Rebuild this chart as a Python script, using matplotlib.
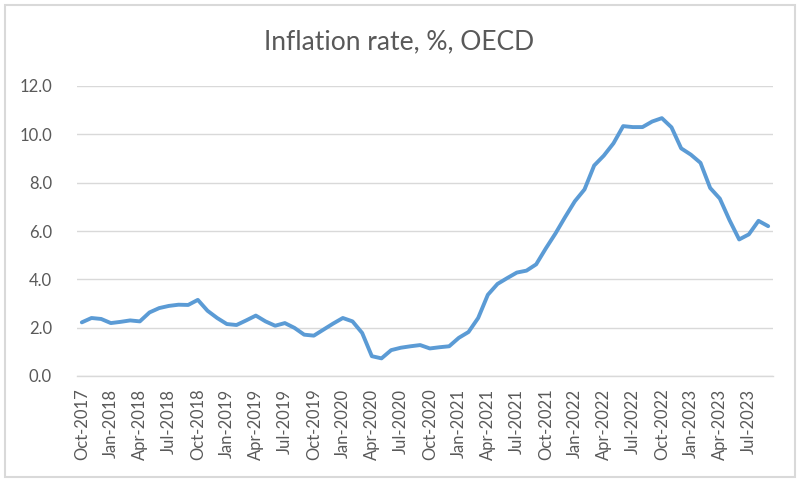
"""Inflation rate, %, OECD - monthly line chart."""

import matplotlib
matplotlib.use("Agg")
import matplotlib.pyplot as plt
from matplotlib.patches import Rectangle

months = [
    "Oct-2017", "Nov-2017", "Dec-2017",
    "Jan-2018", "Feb-2018", "Mar-2018", "Apr-2018", "May-2018", "Jun-2018",
    "Jul-2018", "Aug-2018", "Sep-2018", "Oct-2018", "Nov-2018", "Dec-2018",
    "Jan-2019", "Feb-2019", "Mar-2019", "Apr-2019", "May-2019", "Jun-2019",
    "Jul-2019", "Aug-2019", "Sep-2019", "Oct-2019", "Nov-2019", "Dec-2019",
    "Jan-2020", "Feb-2020", "Mar-2020", "Apr-2020", "May-2020", "Jun-2020",
    "Jul-2020", "Aug-2020", "Sep-2020", "Oct-2020", "Nov-2020", "Dec-2020",
    "Jan-2021", "Feb-2021", "Mar-2021", "Apr-2021", "May-2021", "Jun-2021",
    "Jul-2021", "Aug-2021", "Sep-2021", "Oct-2021", "Nov-2021", "Dec-2021",
    "Jan-2022", "Feb-2022", "Mar-2022", "Apr-2022", "May-2022", "Jun-2022",
    "Jul-2022", "Aug-2022", "Sep-2022", "Oct-2022", "Nov-2022", "Dec-2022",
    "Jan-2023", "Feb-2023", "Mar-2023", "Apr-2023", "May-2023", "Jun-2023",
    "Jul-2023", "Aug-2023", "Sep-2023",
]

inflation = [
    2.22, 2.40, 2.36,
    2.19, 2.24, 2.30, 2.26, 2.63, 2.81,
    2.90, 2.95, 2.94, 3.15, 2.70, 2.40,
    2.15, 2.11, 2.30, 2.50, 2.26, 2.08,
    2.19, 1.99, 1.71, 1.67, 1.92, 2.17,
    2.40, 2.26, 1.78, 0.82, 0.73, 1.07,
    1.17, 1.23, 1.28, 1.14, 1.19, 1.23,
    1.58, 1.82, 2.40, 3.36, 3.81, 4.05,
    4.28, 4.36, 4.62, 5.28, 5.90, 6.58,
    7.23, 7.72, 8.71, 9.12, 9.63, 10.34,
    10.30, 10.30, 10.53, 10.67, 10.29, 9.42,
    9.16, 8.82, 7.78, 7.34, 6.45, 5.65,
    5.86, 6.42, 6.20,
]

yticks = [0, 2, 4, 6, 8, 10, 12]

FONT = "Lato"
GREY_TEXT = "#595959"
GRID = "#D9D9D9"
LINE = "#5B9BD5"

fig = plt.figure(figsize=(8.0, 4.84), dpi=100)
fig.patches.append(Rectangle((5 / 800, 7 / 484), 790 / 800, 472 / 484,
                             transform=fig.transFigure, fill=False,
                             edgecolor=GRID, linewidth=1.5))

ax = fig.add_axes([77 / 800, 1 - 376 / 484, 696 / 800, 290 / 484])
x = list(range(len(months)))
ax.plot(x, inflation, color=LINE, linewidth=2.8, solid_joinstyle="round",
        solid_capstyle="round", zorder=3)

ax.set_xlim(-0.5, len(months) - 0.5)
ax.set_ylim(0, 12)
ax.set_yticks(yticks)
ax.set_yticklabels([f"{v:.1f}" for v in yticks])
ax.yaxis.grid(True, color=GRID, linewidth=1.0)
ax.set_axisbelow(True)

tick_idx = x[::3]
ax.set_xticks(tick_idx)
ax.set_xticklabels([months[i] for i in tick_idx], rotation=90)

for side in ("top", "right", "left"):
    ax.spines[side].set_visible(False)
ax.spines["bottom"].set_color(GRID)
ax.spines["bottom"].set_linewidth(1.0)

ax.tick_params(axis="y", length=0, pad=18, labelsize=12, labelcolor=GREY_TEXT)
ax.tick_params(axis="x", length=0, pad=9, labelsize=12, labelcolor=GREY_TEXT)
for lab in ax.get_xticklabels() + ax.get_yticklabels():
    lab.set_fontfamily(FONT)

fig.text(0.499, 1 - 42 / 484, "Inflation rate, %, OECD", ha="center",
         va="center", fontsize=19, color=GREY_TEXT, family=FONT)

fig.savefig("out.png", dpi=100)
